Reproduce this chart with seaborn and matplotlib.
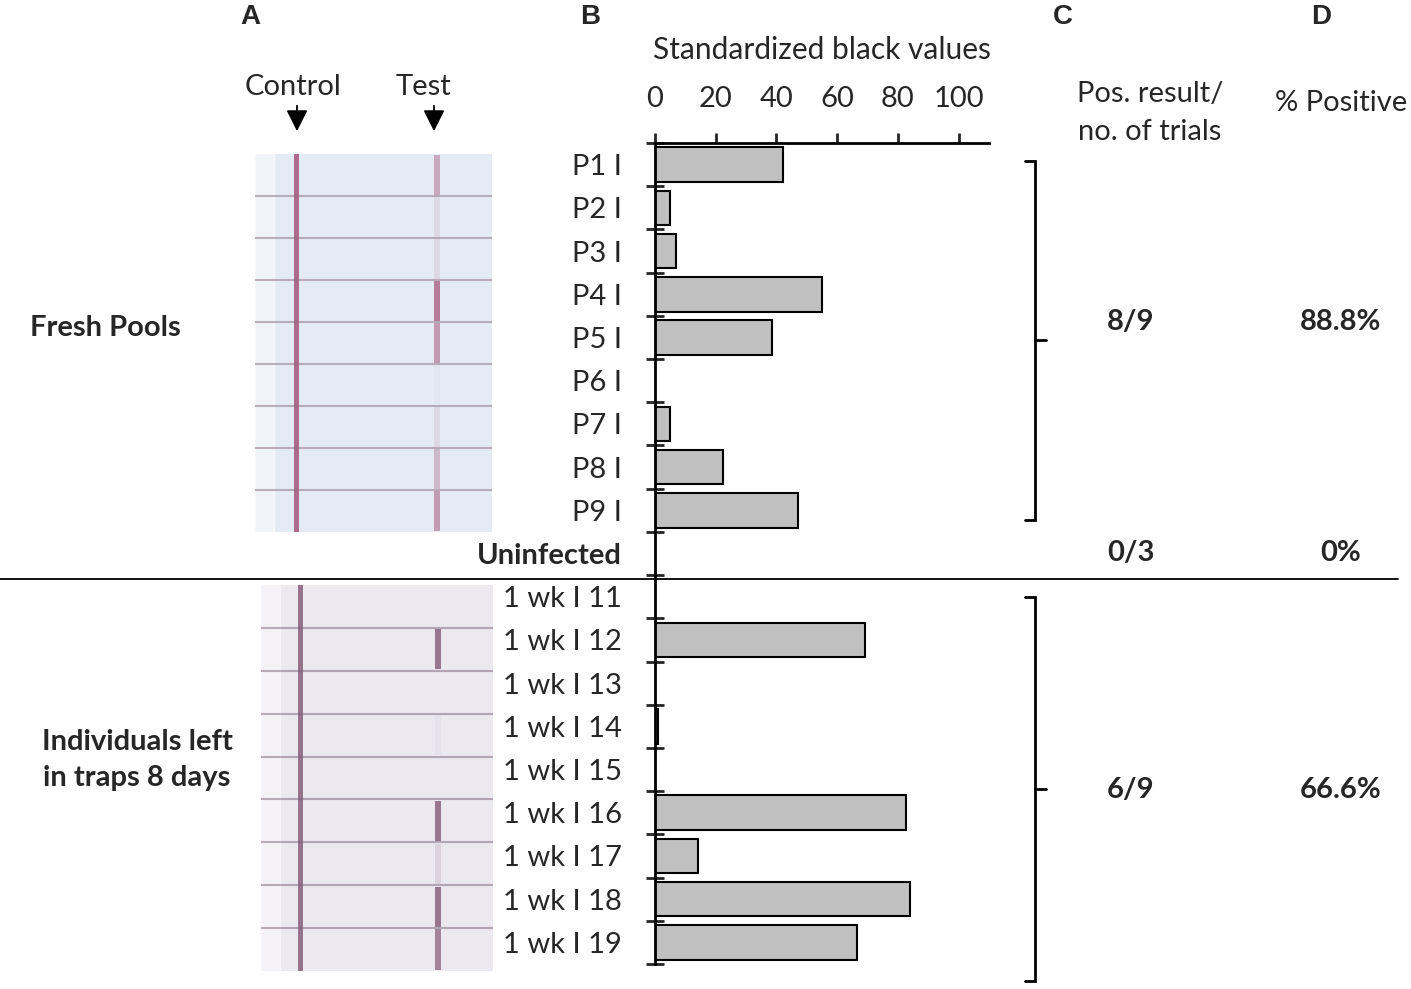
import numpy as np
import pandas as pd
import matplotlib
matplotlib.use('Agg')
import matplotlib.pyplot as plt
import seaborn as sns
from matplotlib.patches import Rectangle

# values
labels = ['P1 I', 'P2 I', 'P3 I', 'P4 I', 'P5 I', 'P6 I', 'P7 I', 'P8 I', 'P9 I',
          'Uninfected',
          '1 wk I 11', '1 wk I 12', '1 wk I 13', '1 wk I 14', '1 wk I 15',
          '1 wk I 16', '1 wk I 17', '1 wk I 18', '1 wk I 19']
black_values = [42, 5, 7, 55, 38.5, 0, 5, 22.5, 47,
                0,
                0, 69, 0, 1, 0, 82.5, 14, 84, 66.5]
x_ticks = [0, 20, 40, 60, 80, 100]

# strip photos (panel A), approximate test line intensity per strip
fresh_test = [0.45, 0.12, 0.12, 0.75, 0.55, 0.03, 0.12, 0.35, 0.55]
aged_test = [0.0, 0.85, 0.0, 0.05, 0.0, 0.85, 0.15, 0.85, 0.75]

# panels C and D
groups = ['Fresh Pools', 'Uninfected', 'Individuals left\nin traps 8 days']
pos_trials = ['8/9', '0/3', '6/9']
pct_pos = ['88.8%', '0%', '66.6%']

df = pd.DataFrame({'label': labels, 'value': black_values})

sns.set_style('white')
plt.rcParams['font.family'] = ['Lato', 'DejaVu Sans']

W, H = 1411, 989
fig = plt.figure(figsize=(W / 100, H / 100), dpi=100)


def box(x0, y0, x1, y1):
    return [x0 / W, 1 - y1 / H, (x1 - x0) / W, (y1 - y0) / H]


FS = 21

# ---- panel B bars
ax = fig.add_axes(box(655, 143, 989, 964))
sns.barplot(data=df, x='value', y='label', order=labels, orient='h',
            color='#c0c0c0', saturation=1, edgecolor='black', linewidth=1.5,
            width=0.8, ax=ax)
ax.set_xlim(0, 110)
ax.set_ylim(len(labels) - 0.5, -0.5)
ax.set_xticks(x_ticks)
ax.xaxis.tick_top()
ax.xaxis.set_label_position('top')
ax.set_xlabel('Standardized black values', fontsize=FS + 0.5, labelpad=20)
ax.set_ylabel('')
ax.tick_params(axis='x', direction='out', length=7, width=2, pad=15,
               labelsize=FS, top=True, bottom=False)
ax.set_yticks(np.arange(len(labels) + 1) - 0.5, minor=True)
ax.tick_params(axis='y', which='major', length=0, pad=24, labelsize=FS)
ax.tick_params(axis='y', which='minor', direction='inout', length=13, width=2,
               left=True)
for t in ax.get_yticklabels():
    if t.get_text() == 'Uninfected':
        t.set_fontweight('bold')
for s in ['right', 'bottom']:
    ax.spines[s].set_visible(False)
for s in ['left', 'top']:
    ax.spines[s].set_linewidth(2)
    ax.spines[s].set_color('black')
ax.set_facecolor('none')


# ---- panel A strip photos
def draw_strips(a, tests, bg, line_col, sep_col, ctrl_x, test_x):
    n = len(tests)
    a.set_xlim(0, 1)
    a.set_ylim(n, 0)
    a.add_patch(Rectangle((0, 0), 1, n, color=bg, zorder=0))
    a.add_patch(Rectangle((0, 0), 0.08, n, color='white', alpha=0.45, zorder=1))
    a.add_patch(Rectangle((ctrl_x, 0), 0.02, n, color=line_col, alpha=0.75,
                          lw=0, zorder=2))
    for i, v in enumerate(tests):
        a.add_patch(Rectangle((test_x, i + 0.03), 0.024, 0.94, color=line_col,
                              alpha=v * 0.85, lw=0, zorder=2))
        if i > 0:
            a.plot([0, 1], [i, i], color=sep_col, alpha=0.5, lw=1.5, zorder=3)
    a.axis('off')


axA1 = fig.add_axes(box(255, 154, 492, 532))
draw_strips(axA1, fresh_test, '#e5ebf4', '#9c4068', '#8a6a80', 0.165, 0.755)
axA2 = fig.add_axes(box(261, 585, 493, 971))
draw_strips(axA2, aged_test, '#ebe8f0', '#7a4a6a', '#7a6478', 0.16, 0.75)

# ---- overlay for text, brackets and separator
ov = fig.add_axes([0, 0, 1, 1])
ov.set_xlim(0, W)
ov.set_ylim(H, 0)
ov.axis('off')
ov.patch.set_visible(False)

for x, s in zip([250, 590, 1063, 1321], ['A', 'B', 'C', 'D']):
    ov.text(x, 17, s, ha='center', va='center', fontsize=20, fontweight='bold',
            family=['Liberation Sans', 'DejaVu Sans'])

ov.text(293, 87, 'Control', ha='center', va='center', fontsize=FS)
ov.text(423, 87, 'Test', ha='center', va='center', fontsize=FS)
for x in [297, 434]:
    ov.annotate('', xy=(x, 134), xytext=(x, 103),
                arrowprops=dict(arrowstyle='-|>,head_length=1.3,head_width=0.65',
                                color='black', lw=1.3))

ov.text(1150, 113, 'Pos. result/\nno. of trials', ha='center', va='center',
        fontsize=FS, linespacing=1.55)
ov.text(1341, 103, '% Positive', ha='center', va='center', fontsize=FS)

ov.text(105, 328, groups[0], ha='center', va='center', fontsize=FS, fontweight='bold')
ov.text(137, 760, groups[2], ha='center', va='center', fontsize=FS,
        fontweight='bold', linespacing=1.5)

for y, c, d in zip([322, 553, 790], pos_trials, pct_pos):
    ov.text(1131, y, c, ha='center', va='center', fontsize=FS, fontweight='bold')
    ov.text(1341, y, d, ha='center', va='center', fontsize=FS, fontweight='bold')

# brackets
for y0, y1, ym in [(161, 520, 340), (597, 981, 789)]:
    ov.plot([1025, 1035, 1035, 1025], [y0, y0, y1, y1], color='black', lw=2,
            solid_joinstyle='miter')
    ov.plot([1035, 1046], [ym, ym], color='black', lw=2)

ov.plot([0, 1398], [579, 579], color='black', lw=1.3)

fig.savefig('out.png', dpi=100)
